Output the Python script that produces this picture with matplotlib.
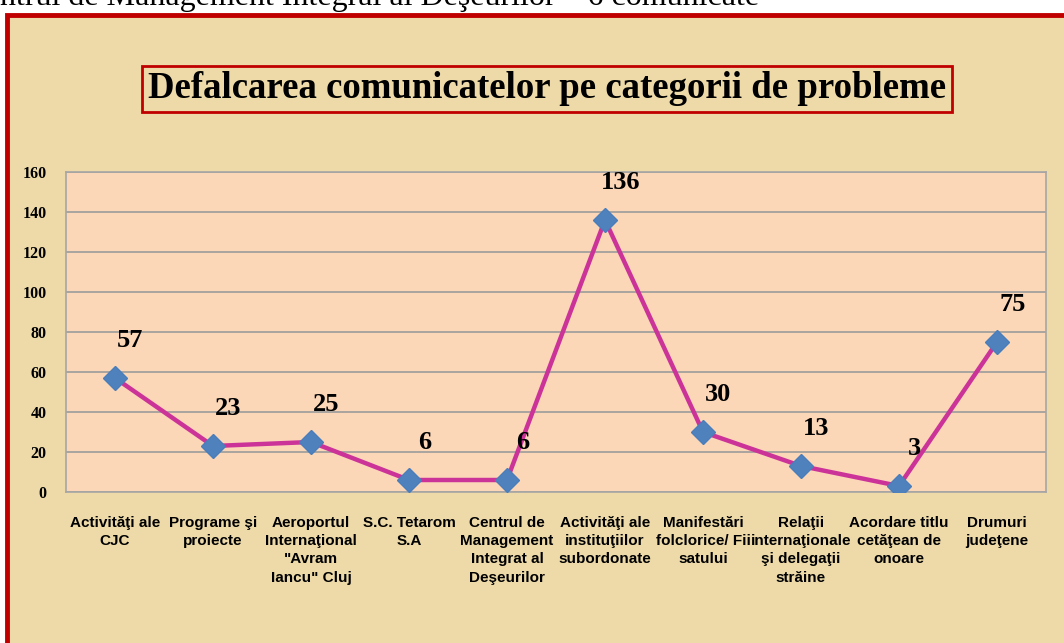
import numpy as np
import matplotlib.pyplot as plt
from matplotlib.patches import Rectangle

# --- datos ---
categorii = [
    "Activităţi ale\nCJC",
    "Programe şi\nproiecte",
    "Aeroportul\nInternaţional\n\"Avram\nIancu\" Cluj",
    "S.C. Tetarom\nS.A",
    "Centrul de\nManagement\nIntegrat al\nDeşeurilor",
    "Activităţi ale\ninstituţiilor\nsubordonate",
    "Manifestări\nfolclorice/ Fii\nsatului",
    "Relaţii\ninternaţionale\nşi delegaţii\nstrăine",
    "Acordare titlu\ncetăţean de\nonoare",
    "Drumuri\njudeţene",
]
valori = [57, 23, 25, 6, 6, 136, 30, 13, 3, 75]
y_ticks = [0, 20, 40, 60, 80, 100, 120, 140, 160]

titlu = "Defalcarea comunicatelor pe categorii de probleme"
text_sus = "ntrul de Management Integral al Deşeurilor – 6 comunicate"

W, H = 1064, 643
fig = plt.figure(figsize=(W / 100, H / 100), dpi=100)
fig.patch.set_facecolor("white")

# fundal papirus + rama rosie
fig.patches.append(Rectangle((7 / W, -0.05), 1.1, 1 - 15 / H + 0.05, transform=fig.transFigure,
                             facecolor="#EDDAA8", edgecolor="#C00000", linewidth=3.5, zorder=-5))

fig.text(0.0, 1 - 5 / H, text_sus, family="Liberation Serif", fontsize=23,
         ha="left", va="baseline", color="black")

# titlu in caseta
fig.text(547 / W, 1 - 89 / H, titlu, family="Liberation Serif", fontweight="bold",
         fontsize=26.5, ha="center", va="center", color="black",
         bbox=dict(boxstyle="square,pad=0.15", facecolor="none", edgecolor="#C00000", linewidth=2))

ax = fig.add_axes([66 / W, 1 - 492 / H, 980 / W, 320 / H])
ax.set_facecolor("#FBD7B8")
x = np.arange(len(valori))
ax.plot(x, valori, color="#CC3399", linewidth=3.2, zorder=3)
ax.plot(x, valori, linestyle="none", marker="D", markersize=12, color="#4F81BD",
        markeredgecolor="#4A7EBB", zorder=4)

for xi, v in zip(x, valori):
    ax.annotate(str(v), (xi, v), xytext=(11, 19), textcoords="offset points",
                ha="center", va="bottom", family="Liberation Serif", fontweight="bold",
                fontsize=19, color="black")

ax.set_xlim(-0.5, len(valori) - 0.5)
ax.set_ylim(0, 160)
ax.set_yticks(y_ticks)
ax.set_yticklabels([str(t) for t in y_ticks], family="Liberation Serif", fontweight="bold",
                   fontsize=11.5)
ax.set_xticks(x)
ax.set_xticklabels(categorii, family="Liberation Sans", fontweight="bold", fontsize=11,
                   linespacing=1.4, va="top")
ax.tick_params(axis="y", length=0, pad=14)
ax.tick_params(axis="x", length=0, pad=17)
ax.grid(axis="y", color="#9C9C9C", linewidth=1.2)
ax.set_axisbelow(True)
for s in ax.spines.values():
    s.set_color("#A6A6A6")
    s.set_linewidth(1.2)

fig.savefig("out.png", dpi=100)
